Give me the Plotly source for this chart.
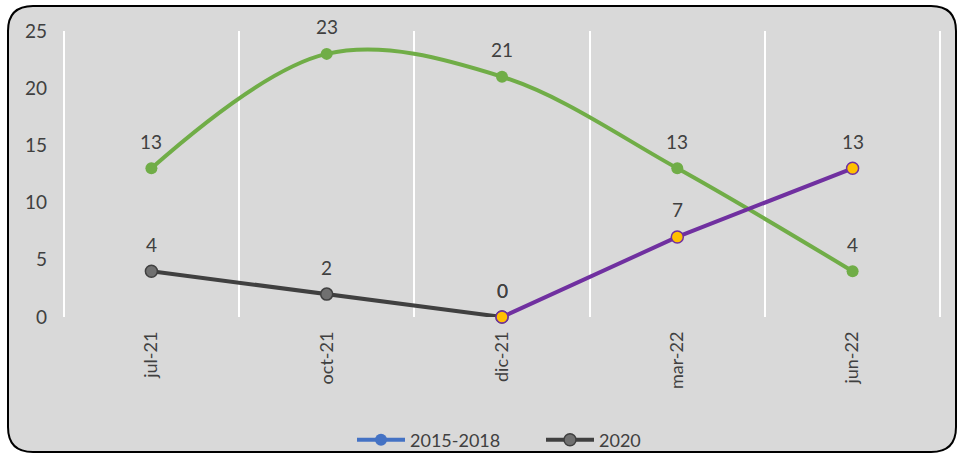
import plotly.graph_objects as go

# Period labels and series values
periods = ["jul-21", "oct-21", "dic-21", "mar-22", "jun-22"]
green_vals = [13, 23, 21, 13, 4]
gray_vals = [4, 2, 0, None, None]
purple_vals = [None, None, 0, 7, 13]
legend_2015_vals = [None, None, None, None, None]

y_ticks = [0, 5, 10, 15, 20, 25]

FONT = "Lato"
TXT = "#404040"
xs = list(range(len(periods)))

fig = go.Figure()

# legend-only series
fig.add_trace(go.Scatter(
    x=xs, y=legend_2015_vals, name="2015-2018", mode="lines+markers",
    line=dict(color="#4472c4", width=4),
    marker=dict(color="#4472c4", size=12),
))

fig.add_trace(go.Scatter(
    x=xs, y=gray_vals, name="2020", mode="lines+markers",
    line=dict(color="#404040", width=4),
    marker=dict(color="#707070", size=12, line=dict(color="#404040", width=1.5)),
    cliponaxis=False,
))

fig.add_trace(go.Scatter(
    x=xs, y=green_vals, name="green", mode="lines+markers", showlegend=False,
    line=dict(color="#70ad47", width=4, shape="spline", smoothing=1.0),
    marker=dict(color="#70ad47", size=12),
    cliponaxis=False,
))

fig.add_trace(go.Scatter(
    x=xs, y=purple_vals, name="purple", mode="lines+markers", showlegend=False,
    line=dict(color="#7030a0", width=4),
    marker=dict(color="#ffc000", size=12, line=dict(color="#7030a0", width=1.5)),
    cliponaxis=False,
))

# value labels above each point
for vals in (green_vals, gray_vals, purple_vals):
    for x, v in zip(xs, vals):
        if v is None:
            continue
        fig.add_annotation(x=x, y=v, text=str(v), showarrow=False,
                           yshift=27, font=dict(family=FONT, size=19, color=TXT))

# rounded frame around the chart (paper coordinates of the plot area)
def px_x(p):
    return (p - 62) / 880

def px_y(p):
    return (317 - p) / 286

x0, x1 = px_x(8), px_x(956)
y0, y1 = px_y(452), px_y(6)
rx, ry = 25 / 880, 25 / 286
path = (f"M {x0+rx},{y1} L {x1-rx},{y1} Q {x1},{y1} {x1},{y1-ry} "
        f"L {x1},{y0+ry} Q {x1},{y0} {x1-rx},{y0} L {x0+rx},{y0} "
        f"Q {x0},{y0} {x0},{y0+ry} L {x0},{y1-ry} Q {x0},{y1} {x0+rx},{y1} Z")
fig.add_shape(type="path", path=path, xref="paper", yref="paper",
              fillcolor="#d9d9d9", line=dict(color="#000000", width=2),
              layer="below")

fig.update_layout(
    width=958, height=455,
    margin=dict(l=62, r=16, t=31, b=138, autoexpand=False),
    paper_bgcolor="white",
    plot_bgcolor="rgba(0,0,0,0)",
    font=dict(family=FONT, size=18, color=TXT),
    showlegend=True,
    legend=dict(orientation="h", x=(352 - 62) / 880, xanchor="left",
                yref="container", y=15 / 455, yanchor="middle",
                bgcolor="rgba(0,0,0,0)", font=dict(family=FONT, size=18, color=TXT),
                itemwidth=48, entrywidth=126, entrywidthmode="pixels"),
    xaxis=dict(
        range=[-0.51, 4.51], tickmode="array", tickvals=xs, ticktext=periods,
        tickangle=-90, showgrid=False, zeroline=False, showline=False, ticks="",
        ticklabelstandoff=10, automargin=False, tickfont=dict(size=18),
        minor=dict(tickmode="array", tickvals=[-0.5, 0.5, 1.5, 2.5, 3.5, 4.5],
                   showgrid=True, gridcolor="white", gridwidth=2, ticks=""),
    ),
    yaxis=dict(
        range=[0, 25], tickmode="array", tickvals=y_ticks, showgrid=False,
        zeroline=False, showline=False, ticks="", ticklabelstandoff=14,
        automargin=False, tickfont=dict(size=19),
    ),
)

fig.write_html("out.html")
